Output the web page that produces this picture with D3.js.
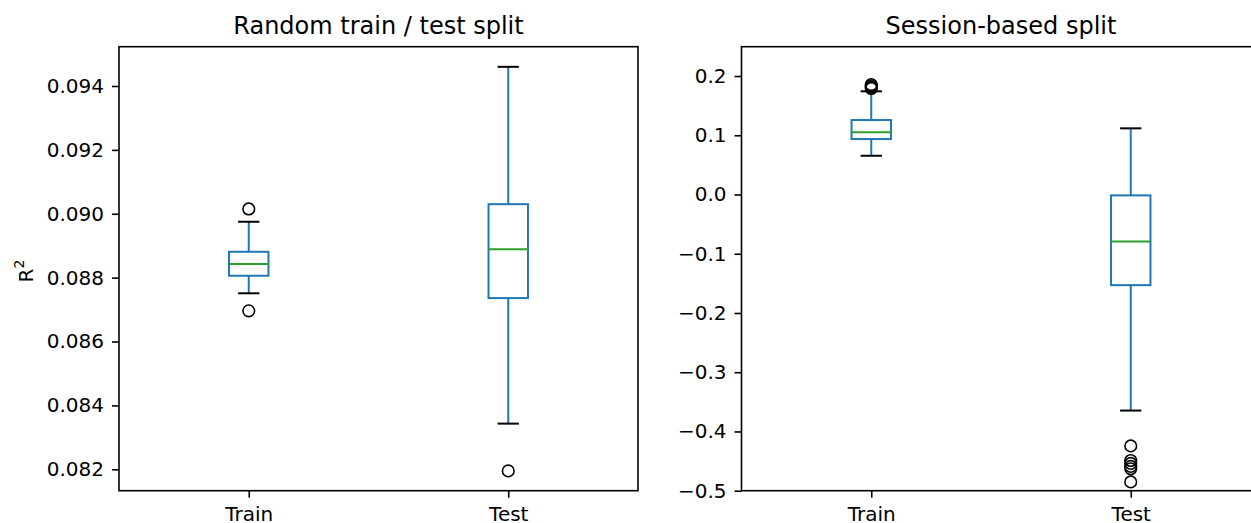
<!DOCTYPE html>
<html>
<head>
<meta charset="utf-8">
<script src="https://cdn.jsdelivr.net/npm/d3@7"></script>
<style>
  body { margin: 0; background: #fff; }
  text { font-family: "DejaVu Sans", sans-serif; fill: #000; }
</style>
</head>
<body>
<div id="chart"></div>
<script>
// box statistics, one entry per category
var categories = ["Train", "Test"];

// left panel: random train / test split
var randWhiskLo = [0.08751, 0.08343];
var randQ1      = [0.08806, 0.08736];
var randMedian  = [0.08843, 0.08889];
var randQ3      = [0.08881, 0.09030];
var randWhiskHi = [0.08975, 0.09460];
var randFliers  = [[0.09015, 0.08696], [0.08195]];
var randTicks   = [0.082, 0.084, 0.086, 0.088, 0.090, 0.092, 0.094];

// right panel: session-based split
var sessWhiskLo = [0.0654, -0.3647];
var sessQ1      = [0.0936, -0.1530];
var sessMedian  = [0.1049, -0.0792];
var sessQ3      = [0.1257, -0.0015];
var sessWhiskHi = [0.1742, 0.1117];
var sessFliers  = [[0.1855, 0.1835, 0.1815, 0.1790],
                   [-0.4244, -0.4490, -0.4540, -0.4590, -0.4630, -0.4852]];
var sessTicks   = [-0.5, -0.4, -0.3, -0.2, -0.1, 0.0, 0.1, 0.2];

var width = 1251, height = 523;
var svg = d3.select("#chart")
  .append("svg")
    .attr("width", width)
    .attr("height", height);

var plotTop = 46.7, plotBottom = 490.7;
var boxW = 0.152;  // in category units
var capW = 0.082;

function styleAxis(a) {
  a.select(".domain").remove();
  a.selectAll("line").attr("stroke", "#000").attr("stroke-width", 1.6);
  a.selectAll("text").attr("font-size", 20).attr("font-family", "DejaVu Sans");
}

function drawPanel(opts) {
  var g = svg.append("g");

  var x = d3.scaleLinear().domain([0.5, 2.5]).range([opts.left, opts.right]);
  var y = d3.scaleLinear().domain(opts.domain).range([plotBottom, plotTop]);

  // y axis
  g.append("g")
      .attr("transform", "translate(" + opts.left + ",0)")
      .call(d3.axisLeft(y).tickValues(opts.ticks).tickFormat(d3.format(opts.fmt))
              .tickSize(7).tickPadding(8))
      .call(styleAxis);

  // x axis
  g.append("g")
      .attr("transform", "translate(0," + plotBottom + ")")
      .call(d3.axisBottom(x).tickValues([1, 2]).tickFormat(function(d) { return categories[d - 1]; })
              .tickSize(7).tickPadding(9))
      .call(styleAxis);

  // frame
  g.append("rect")
      .attr("x", opts.left)
      .attr("y", plotTop)
      .attr("width", opts.right - opts.left)
      .attr("height", plotBottom - plotTop)
      .attr("fill", "none")
      .attr("stroke", "#000")
      .attr("stroke-width", 1.6);

  var rows = categories.map(function(c, i) {
    return {pos: i + 1, lo: opts.lo[i], q1: opts.q1[i], med: opts.med[i],
            q3: opts.q3[i], hi: opts.hi[i], fliers: opts.fliers[i]};
  });

  var boxes = g.selectAll(".box")
      .data(rows)
    .enter()
      .append("g")
      .attr("class", "box");

  // whiskers
  boxes.append("line")
      .attr("x1", function(d) { return x(d.pos); })
      .attr("x2", function(d) { return x(d.pos); })
      .attr("y1", function(d) { return y(d.q3); })
      .attr("y2", function(d) { return y(d.hi); })
      .attr("stroke", "#1f77b4")
      .attr("stroke-width", 2);
  boxes.append("line")
      .attr("x1", function(d) { return x(d.pos); })
      .attr("x2", function(d) { return x(d.pos); })
      .attr("y1", function(d) { return y(d.q1); })
      .attr("y2", function(d) { return y(d.lo); })
      .attr("stroke", "#1f77b4")
      .attr("stroke-width", 2);

  // caps
  ["lo", "hi"].forEach(function(k) {
    boxes.append("line")
        .attr("x1", function(d) { return x(d.pos - capW / 2); })
        .attr("x2", function(d) { return x(d.pos + capW / 2); })
        .attr("y1", function(d) { return y(d[k]); })
        .attr("y2", function(d) { return y(d[k]); })
        .attr("stroke", "#000")
        .attr("stroke-width", 2);
  });

  // box
  boxes.append("rect")
      .attr("x", function(d) { return x(d.pos - boxW / 2); })
      .attr("y", function(d) { return y(d.q3); })
      .attr("width", function(d) { return x(d.pos + boxW / 2) - x(d.pos - boxW / 2); })
      .attr("height", function(d) { return y(d.q1) - y(d.q3); })
      .attr("fill", "none")
      .attr("stroke", "#1f77b4")
      .attr("stroke-width", 2);

  // median
  boxes.append("line")
      .attr("x1", function(d) { return x(d.pos - boxW / 2); })
      .attr("x2", function(d) { return x(d.pos + boxW / 2); })
      .attr("y1", function(d) { return y(d.med); })
      .attr("y2", function(d) { return y(d.med); })
      .attr("stroke", "#2ca02c")
      .attr("stroke-width", 2);

  // fliers
  boxes.selectAll(".flier")
      .data(function(d) { return d.fliers.map(function(v) { return {pos: d.pos, v: v}; }); })
    .enter()
      .append("circle")
      .attr("cx", function(d) { return x(d.pos); })
      .attr("cy", function(d) { return y(d.v); })
      .attr("r", 5.8)
      .attr("fill", "none")
      .attr("stroke", "#000")
      .attr("stroke-width", 1.6);

  // title
  g.append("text")
      .attr("x", (opts.left + opts.right) / 2)
      .attr("y", 34)
      .attr("text-anchor", "middle")
      .attr("font-size", 24)
      .text(opts.title);
}

drawPanel({left: 119, right: 638, domain: [0.08133, 0.09523], ticks: randTicks, fmt: ".3f",
           lo: randWhiskLo, q1: randQ1, med: randMedian, q3: randQ3, hi: randWhiskHi,
           fliers: randFliers, title: "Random train / test split"});

drawPanel({left: 741.5, right: 1260.5, domain: [-0.5, 0.2495], ticks: sessTicks, fmt: ".1f",
           lo: sessWhiskLo, q1: sessQ1, med: sessMedian, q3: sessQ3, hi: sessWhiskHi,
           fliers: sessFliers, title: "Session-based split"});

// y label
var ylab = svg.append("text")
    .attr("transform", "translate(33,271) rotate(-90)")
    .attr("text-anchor", "middle")
    .attr("font-size", 20);
ylab.append("tspan").text("R");
ylab.append("tspan").attr("font-size", 14).attr("dy", -9).text("2");
</script>
</body>
</html>
